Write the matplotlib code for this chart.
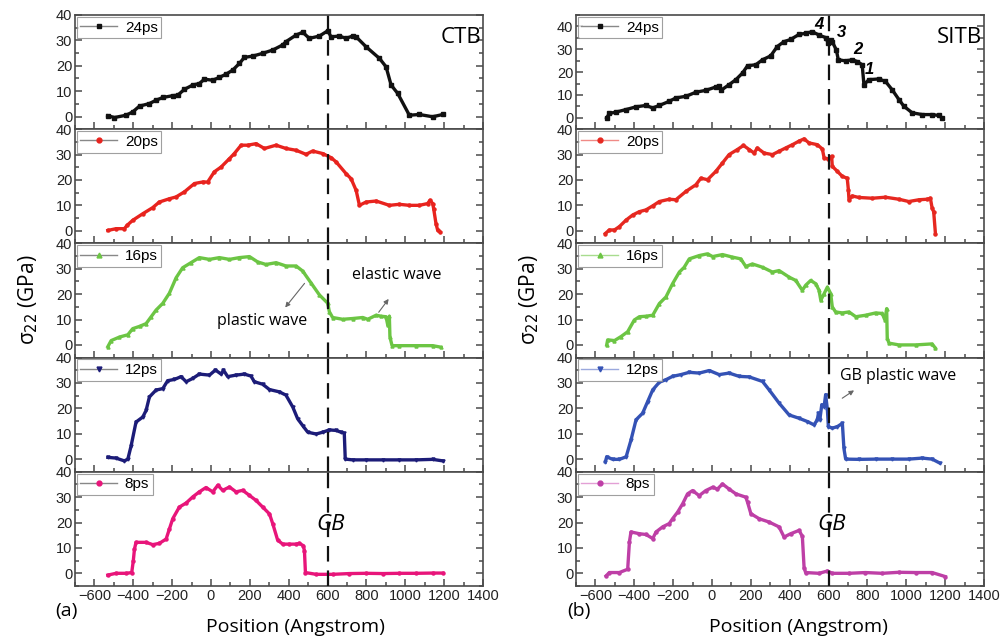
import matplotlib
matplotlib.use("Agg")
import matplotlib.pyplot as plt
from matplotlib.lines import Line2D
from matplotlib.ticker import MultipleLocator

# ---------------- data ----------------
times = ["24ps", "20ps", "16ps", "12ps", "8ps"]

# Left column: CTB
ctb_24_x = [-531, -497, -437, -403, -368, -317, -283, -248, -197, -171, -137, -94, -60, -34, 9, 43, 78, 112, 146, 172, 215, 266, 318, 369, 386, 438, 472, 506, 558, 601, 618, 661, 695, 729, 747, 798, 867, 901, 927, 961, 1021, 1072, 1141, 1193]
ctb_24_y = [0.3, -0.4, 0.5, 1.8, 4.1, 5.1, 6.4, 7.5, 8.2, 8.4, 10.7, 12.4, 13.0, 14.7, 14.3, 15.4, 16.7, 18.3, 20.9, 23.3, 23.8, 24.9, 26.2, 28.2, 29.5, 32.1, 33.2, 30.8, 31.7, 33.8, 31.4, 31.7, 30.8, 31.7, 31.4, 27.5, 22.9, 19.6, 12.4, 9.1, 0.5, 0.8, -0.1, 0.8]

ctb_20_x = [-531, -489, -446, -432, -403, -351, -300, -266, -214, -180, -137, -85, -43, -17, 17, 52, 95, 120, 155, 189, 232, 275, 335, 386, 438, 489, 523, 575, 618, 644, 695, 721, 747, 764, 798, 850, 918, 969, 1021, 1072, 1115, 1127, 1141, 1146, 1158, 1167, 1179]
ctb_20_y = [0.1, 0.8, 0.8, 2.1, 4.1, 6.7, 9.1, 11.3, 12.6, 13.3, 15.3, 18.6, 19.2, 19.2, 23.2, 25.1, 28.4, 30.4, 33.7, 33.7, 34.3, 32.4, 33.7, 32.4, 31.7, 30.1, 31.4, 30.4, 28.8, 27.1, 22.5, 20.5, 15.9, 10.0, 11.3, 11.7, 10.0, 10.4, 10.0, 10.0, 10.7, 12.0, 10.7, 8.7, 2.8, 0.1, -0.5]

ctb_16_x = [-531, -514, -471, -428, -403, -368, -334, -308, -283, -248, -214, -180, -146, -103, -60, -8, 43, 95, 146, 198, 240, 283, 335, 386, 438, 472, 515, 558, 601, 609, 626, 678, 729, 781, 807, 850, 876, 901, 910, 918, 921, 932, 969, 1055, 1141, 1184]
ctb_16_y = [-0.7, 1.7, 3.1, 4.0, 6.4, 7.3, 8.4, 11.1, 13.7, 16.4, 20.4, 26.4, 30.4, 32.4, 34.4, 33.7, 34.4, 33.7, 34.4, 34.8, 32.7, 31.7, 32.4, 31.1, 31.1, 29.1, 24.4, 19.7, 16.4, 13.1, 10.8, 10.1, 10.4, 10.8, 10.1, 11.7, 11.3, 11.1, 7.7, 11.3, 3.1, -0.3, -0.3, -0.3, -0.3, -0.9]

ctb_12_x = [-531, -489, -446, -428, -411, -386, -351, -334, -317, -283, -248, -223, -188, -154, -128, -94, -60, -8, 23, 52, 64, 86, 129, 172, 206, 223, 266, 301, 352, 386, 421, 446, 472, 498, 541, 575, 609, 644, 669, 686, 691, 729, 798, 884, 969, 1055, 1141, 1193]
ctb_12_y = [0.7, 0.4, -0.7, 0.0, 5.3, 14.6, 16.6, 19.2, 24.5, 27.2, 27.8, 30.9, 31.4, 32.5, 30.5, 31.8, 33.5, 33.1, 35.1, 33.5, 35.1, 32.5, 33.1, 33.5, 32.7, 30.5, 29.5, 27.4, 26.5, 25.2, 20.5, 15.9, 13.2, 10.6, 9.9, 10.6, 11.5, 11.3, 10.6, 10.2, 0.0, -0.3, -0.3, -0.3, -0.3, -0.3, -0.1, -0.7]

ctb_8_x = [-531, -489, -437, -408, -400, -394, -386, -334, -300, -266, -231, -214, -197, -163, -128, -94, -60, -26, 9, 35, 60, 95, 129, 163, 198, 232, 266, 301, 318, 343, 369, 403, 438, 455, 475, 481, 486, 541, 626, 712, 798, 884, 969, 1055, 1141, 1193]
ctb_8_y = [-0.7, 0.0, 0.0, 0.3, 4.9, 9.5, 12.2, 12.2, 11.3, 11.8, 13.5, 17.5, 21.5, 26.1, 27.7, 30.1, 32.1, 33.8, 32.1, 34.7, 32.7, 34.0, 32.1, 32.7, 30.7, 28.7, 26.1, 23.4, 19.5, 13.1, 11.5, 11.5, 11.5, 11.8, 10.9, 8.9, 0.3, -0.4, -0.4, -0.1, 0.0, -0.1, 0.0, 0.0, 0.1, 0.1]

# Right column: SITB
sitb_24_x = [-542, -528, -494, -442, -391, -340, -305, -271, -220, -186, -134, -83, -32, 20, 37, 46, 88, 123, 157, 183, 225, 260, 302, 336, 370, 405, 448, 482, 516, 551, 585, 599, 611, 619, 640, 650, 688, 722, 748, 773, 782, 808, 859, 893, 927, 962, 987, 1030, 1082, 1133, 1167, 1184]
sitb_24_y = [0.0, 1.9, 2.5, 3.6, 4.8, 5.4, 4.3, 5.4, 7.2, 8.7, 9.4, 11.2, 12.0, 13.5, 14.1, 12.0, 14.5, 16.7, 19.6, 22.8, 23.2, 25.4, 27.1, 31.2, 33.3, 34.3, 36.5, 37.0, 37.7, 36.2, 35.1, 32.6, 34.1, 33.3, 29.7, 25.4, 24.9, 25.4, 24.6, 23.2, 14.5, 16.7, 17.0, 15.9, 12.3, 8.0, 5.1, 2.2, 1.4, 1.4, 1.0, 0.0]

sitb_20_x = [-549, -528, -502, -477, -442, -408, -374, -340, -305, -271, -220, -186, -134, -83, -57, -23, 20, 54, 88, 131, 162, 191, 217, 233, 268, 311, 345, 379, 414, 448, 474, 499, 542, 568, 577, 599, 616, 619, 645, 671, 696, 702, 705, 722, 756, 825, 893, 962, 1013, 1065, 1107, 1124, 1133, 1141, 1150]
sitb_20_y = [-1.1, 0.3, 0.3, 1.6, 4.2, 6.2, 7.5, 8.2, 9.8, 11.5, 12.4, 12.2, 15.5, 18.1, 20.7, 20.1, 23.4, 26.7, 30.0, 32.0, 33.6, 32.0, 30.6, 32.6, 30.6, 30.0, 31.3, 32.6, 33.9, 35.3, 36.2, 34.6, 33.9, 32.2, 28.7, 28.3, 29.3, 25.4, 23.4, 21.4, 20.7, 16.1, 12.2, 13.7, 13.1, 12.8, 13.2, 12.4, 11.5, 12.2, 12.4, 12.8, 8.9, 7.5, -1.1]

sitb_16_x = [-542, -537, -502, -468, -434, -400, -374, -340, -305, -271, -237, -203, -168, -143, -117, -66, -23, 3, 54, 105, 148, 174, 208, 260, 311, 345, 397, 431, 465, 482, 508, 534, 551, 560, 577, 594, 611, 619, 636, 671, 705, 740, 791, 842, 876, 890, 899, 902, 911, 962, 1048, 1133, 1150]
sitb_16_y = [0.0, 2.0, 1.7, 3.3, 5.2, 9.8, 11.1, 11.3, 11.7, 16.3, 18.9, 24.1, 28.7, 30.6, 33.9, 35.2, 35.9, 34.8, 35.6, 34.6, 33.9, 30.9, 31.9, 30.6, 28.7, 29.3, 26.7, 25.4, 21.5, 23.5, 25.4, 24.1, 21.5, 17.6, 20.2, 22.8, 20.2, 15.0, 13.0, 12.6, 13.0, 11.1, 11.7, 12.6, 12.4, 9.8, 14.3, 2.6, 0.7, 0.0, 0.0, 0.4, -1.3]

sitb_12_x = [-549, -542, -511, -477, -442, -417, -391, -357, -331, -305, -271, -237, -203, -160, -117, -66, -14, 37, 88, 140, 191, 260, 294, 345, 397, 448, 491, 525, 542, 548, 555, 565, 577, 585, 594, 599, 619, 645, 671, 679, 688, 756, 842, 927, 1013, 1082, 1133, 1171]
sitb_12_y = [-1.1, 0.9, -0.1, -0.1, 0.9, 7.5, 15.5, 18.1, 22.7, 27.3, 30.3, 31.3, 32.6, 33.3, 34.2, 33.9, 34.9, 33.3, 33.9, 32.6, 32.4, 30.6, 27.3, 22.1, 17.4, 16.1, 14.8, 13.5, 15.5, 18.1, 15.5, 21.4, 20.7, 25.4, 19.4, 12.8, 12.2, 12.8, 14.1, 4.2, 0.0, -0.1, 0.0, 0.0, 0.0, 0.4, 0.0, -1.5]

sitb_8_x = [-545, -528, -477, -434, -425, -417, -374, -340, -305, -288, -254, -220, -203, -177, -151, -126, -100, -66, -32, 3, 28, 54, 88, 123, 174, 183, 200, 243, 294, 345, 371, 405, 448, 465, 474, 482, 551, 594, 619, 705, 790, 876, 962, 1048, 1133, 1201]
sitb_8_y = [-1.0, 0.3, 0.3, 1.6, 12.4, 16.3, 15.6, 15.3, 13.7, 16.3, 18.3, 19.6, 21.5, 24.1, 27.4, 31.3, 32.6, 30.6, 32.6, 33.9, 33.2, 35.2, 33.2, 31.3, 30.0, 28.0, 23.5, 21.5, 20.2, 18.3, 14.3, 15.6, 16.9, 14.6, 2.2, 0.3, 0.0, 0.9, 0.0, 0.0, 0.3, 0.0, 0.4, 0.3, 0.3, -1.3]

x_ticks = [-600, -400, -200, 0, 200, 400, 600, 800, 1000, 1200, 1400]
y_ticks = [0, 10, 20, 30, 40]
gb_position = 600

left_series = [(ctb_24_x, ctb_24_y), (ctb_20_x, ctb_20_y), (ctb_16_x, ctb_16_y), (ctb_12_x, ctb_12_y), (ctb_8_x, ctb_8_y)]
right_series = [(sitb_24_x, sitb_24_y), (sitb_20_x, sitb_20_y), (sitb_16_x, sitb_16_y), (sitb_12_x, sitb_12_y), (sitb_8_x, sitb_8_y)]

# ---------------- styles ----------------
left_colors = ["#111111", "#E8231E", "#6CC544", "#1C1C78", "#E8157A"]
right_colors = ["#111111", "#E62820", "#6CC544", "#3452B5", "#BE3FA6"]
left_handle_line = ["#888888"] * 5
right_handle_line = ["#888888", "#F08A86", "#A8DC8E", "#9AA8DD", "#E3A0D6"]
markers = ["s", "o", "^", "v", "o"]

tick_font = "Liberation Sans"
text_font = "Open Sans"

fig = plt.figure(figsize=(10.03, 6.43), dpi=100)
W, H = 1003.0, 643.0
col_left = [75 / W, 576 / W]
col_width = 408 / W
top_px, bottom_px = 15.0, 586.0
panel_h = (bottom_px - top_px) / 5.0

spine_color = "#4a4a4a"

for c, (series, colors, hcols) in enumerate([(left_series, left_colors, left_handle_line),
                                               (right_series, right_colors, right_handle_line)]):
    for i in range(5):
        y0 = 1 - (top_px + (i + 1) * panel_h) / H
        ax = fig.add_axes([col_left[c], y0, col_width, panel_h / H])
        xs, ys = series[i]
        ax.plot(xs, ys, color=colors[i], lw=2.4, marker=markers[i], ms=2.2,
                mec=colors[i], mfc=colors[i], zorder=3)
        ax.axvline(gb_position, color="#111111", lw=1.6, dashes=(7, 4), zorder=4)
        ax.set_xlim(-700, 1400)
        if c == 1 and i == 0:
            ax.set_ylim(-5, 45)
        else:
            ax.set_ylim(-5, 40)
        ax.set_xticks(x_ticks)
        ax.set_yticks(y_ticks)
        ax.xaxis.set_minor_locator(MultipleLocator(100))
        ax.yaxis.set_minor_locator(MultipleLocator(5))
        ax.tick_params(axis="both", which="both", direction="in", top=False, right=True,
                       color=spine_color, width=1.1)
        ax.tick_params(which="major", length=5)
        ax.tick_params(which="minor", length=3)
        ax.tick_params(axis="both", labelsize=10.5, labelcolor="#222222", pad=2)
        for lab in ax.get_xticklabels() + ax.get_yticklabels():
            lab.set_family(tick_font)
        if i < 4:
            ax.tick_params(labelbottom=False)
        for sp in ax.spines.values():
            sp.set_color(spine_color)
            sp.set_linewidth(1.2)
        h = Line2D([], [], color=hcols[i], lw=1.0, marker=markers[i], ms=3.5,
                   mfc=colors[i], mec=colors[i])
        leg = ax.legend([h], [times[i]], loc="upper left", bbox_to_anchor=(0.004, 0.985),
                        borderaxespad=0, frameon=True, fancybox=False, handlelength=2.4,
                        handletextpad=0.5, borderpad=0.25,
                        prop={"family": tick_font, "size": 11})
        leg.get_frame().set_edgecolor("#888888")
        leg.get_frame().set_linewidth(0.8)
        leg.set_zorder(5)

        # annotations
        if c == 0 and i == 0:
            ax.text(1390, 31, "CTB", ha="right", va="center", fontsize=16, family=text_font)
        if c == 1 and i == 0:
            ax.text(1390, 35, "SITB", ha="right", va="center", fontsize=16, family=text_font)
            for lbl, px, py in [("4", 551, 41), ("3", 665, 37.5), ("2", 753, 30), ("1", 810, 21)]:
                ax.text(px, py, lbl, ha="center", va="center", fontsize=12,
                        fontweight="bold", fontstyle="italic", family=tick_font)
        if c == 0 and i == 2:
            ax.annotate("plastic wave", xy=(373, 13.9), xytext=(482, 26.2), fontsize=0.1,
                        color="none", arrowprops=dict(arrowstyle="-|>", color="#666666",
                                                       lw=0.8, mutation_scale=7))
            ax.text(264, 9.6, "plastic wave", ha="center", va="center", fontsize=11.5,
                    family=text_font)
            ax.annotate("elastic wave", xy=(923, 19), xytext=(819, 10.4), fontsize=0.1,
                        color="none", arrowprops=dict(arrowstyle="-|>", color="#666666",
                                                       lw=0.8, mutation_scale=7))
            ax.text(954, 27.4, "elastic wave", ha="center", va="center", fontsize=11.5,
                    family=text_font)
        if c == 1 and i == 3:
            ax.annotate("GB plastic wave", xy=(743, 27.7), xytext=(603, 21.8), fontsize=0.1,
                        color="none", arrowprops=dict(arrowstyle="-|>", color="#666666",
                                                       lw=0.8, mutation_scale=7))
            ax.text(960, 32.9, "GB plastic wave", ha="center", va="center", fontsize=11.5,
                    family=text_font)
        if i == 4:
            ax.text(617, 19.4, "GB", ha="center", va="center", fontsize=16,
                    fontstyle="italic", family=text_font)

for cx in [28 / W, 529 / W]:
    fig.text(cx, 1 - 300 / H, "σ$_{22}$ (GPa)", rotation=90, ha="center", va="center",
             fontsize=15, family=text_font)

fig.text(295 / W, 1 - 627 / H, "Position (Angstrom)", ha="center", va="center",
         fontsize=14, family=text_font)
fig.text(798 / W, 1 - 627 / H, "Position (Angstrom)", ha="center", va="center",
         fontsize=14, family=text_font)
fig.text(66 / W, 1 - 611 / H, "(a)", ha="center", va="center", fontsize=14, family=text_font)
fig.text(579 / W, 1 - 611 / H, "(b)", ha="center", va="center", fontsize=14, family=text_font)

fig.savefig("out.png", dpi=100, facecolor="white")
